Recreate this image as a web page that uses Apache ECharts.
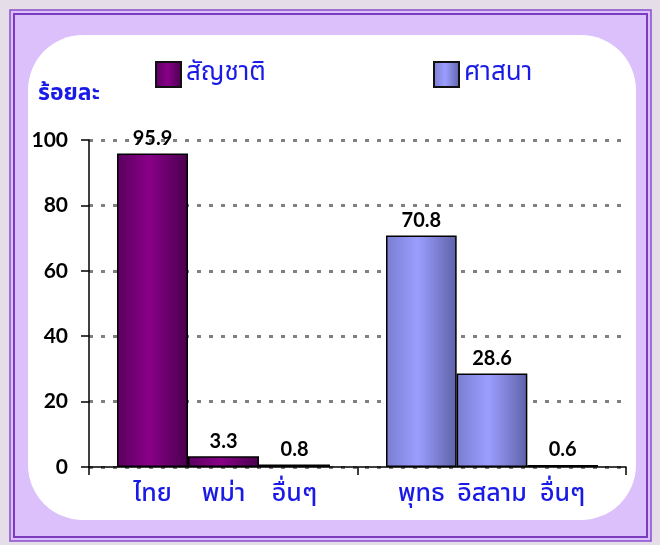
<!DOCTYPE html>
<html>
<head>
<meta charset="utf-8">
<script src="https://cdn.jsdelivr.net/npm/echarts@6/dist/echarts.min.js"></script>
<style>
html,body{margin:0;padding:0;background:#e5dde8;}
#c{width:660px;height:545px;}
</style>
</head>
<body>
<div id="c"></div>
<script>
// ---- data ----
const seriesNames = ['สัญชาติ', 'ศาสนา'];
const nationalityCats = ['ไทย', 'พม่า', 'อื่นๆ'];
const nationalityVals = [95.9, 3.3, 0.8];
const religionCats = ['พุทธ', 'อิสลาม', 'อื่นๆ'];
const religionVals = [70.8, 28.6, 0.6];
const yTicks = [0, 20, 40, 60, 80, 100];
const yUnit = 'ร้อยละ';

const thaiFont = "Tahoma, 'Noto Sans Thai', 'Noto Sans', 'DejaVu Sans', sans-serif";
const numFont = "Lato, 'Open Sans', 'Liberation Sans', sans-serif";
const blue = '#1a1ae6';

function grad(c0, c1, c2) {
  return new echarts.graphic.LinearGradient(0, 0, 1, 0, [
    {offset: 0, color: c0}, {offset: 0.45, color: c1}, {offset: 1, color: c2}
  ]);
}
const purpleGrad = grad('#5a005e', '#880088', '#4a004e');
const blueGrad = grad('#7a7ed0', '#9c9eff', '#5e62a8');

const chart = echarts.init(document.getElementById('c'), null, {renderer: 'canvas'});

const yMin = yTicks[0], yMax = yTicks[yTicks.length - 1];
const hiddenY = (gi) => ({type: 'value', gridIndex: gi, min: yMin, max: yMax, show: false});
const catX = (gi, cats) => ({
  type: 'category', gridIndex: gi, data: cats,
  axisLine: {show: false}, axisTick: {show: false},
  axisLabel: {color: blue, fontSize: 25, fontWeight: 500, fontFamily: thaiFont, margin: 16, interval: 0}
});
const barLabel = {
  show: true, position: 'top', distance: 5,
  color: '#000', fontSize: 20, fontWeight: 'bold', fontFamily: numFont,
  formatter: p => p.value.toFixed(1)
};

chart.setOption({
  backgroundColor: '#e5dde8',
  animation: false,
  graphic: {
    elements: [
      {type: 'rect', z: -10, shape: {x: 10, y: 10, width: 641, height: 531},
        style: {fill: '#dcc0fc', stroke: '#8a4ccc', lineWidth: 1.5}},
      {type: 'rect', z: -10, shape: {x: 14, y: 14, width: 633, height: 523},
        style: {fill: 'none', stroke: '#7a3bbf', lineWidth: 2}},
      {type: 'rect', z: -9, shape: {x: 28, y: 35, width: 608, height: 485, r: 55},
        style: {fill: '#ffffff'}},
      {type: 'text', z: 5, left: 38, top: 84,
        style: {text: yUnit, fill: blue, font: "bold 23px " + thaiFont}}
    ]
  },
  legend: [
    {data: [seriesNames[0]], left: 150, top: 56, itemWidth: 25, itemHeight: 25,
      icon: 'rect', itemStyle: {borderColor: '#111', borderWidth: 2},
      textStyle: {color: blue, fontSize: 26, fontFamily: thaiFont}, itemGap: 10},
    {data: [seriesNames[1]], left: 428, top: 56, itemWidth: 25, itemHeight: 25,
      icon: 'rect', itemStyle: {borderColor: '#111', borderWidth: 2},
      textStyle: {color: blue, fontSize: 26, fontFamily: thaiFont}, itemGap: 10}
  ],
  grid: [
    {left: 89, right: 34, top: 140, bottom: 78},
    {left: 117, width: 213, top: 140, bottom: 78},
    {left: 386, width: 212, top: 140, bottom: 78}
  ],
  xAxis: [
    {type: 'category', gridIndex: 0, data: seriesNames, boundaryGap: true,
      axisLine: {show: true, lineStyle: {color: '#000', width: 1.5}},
      axisTick: {show: true, length: 8, lineStyle: {color: '#000', width: 1.5}},
      axisLabel: {show: false}},
    catX(1, nationalityCats),
    catX(2, religionCats)
  ],
  yAxis: [
    {type: 'value', gridIndex: 0, min: yMin, max: yMax, interval: yTicks[1] - yTicks[0],
      axisLine: {show: true, lineStyle: {color: '#000', width: 1.5}},
      axisTick: {show: true, length: 8, lineStyle: {color: '#000', width: 1.5}},
      axisLabel: {color: '#000', fontSize: 21, fontWeight: 'bold', fontFamily: numFont, margin: 21},
      splitLine: {show: true, lineStyle: {color: '#808080', width: 3, type: [4, 8]}}},
    hiddenY(1),
    hiddenY(2)
  ],
  series: [
    {name: seriesNames[0], type: 'bar', xAxisIndex: 1, yAxisIndex: 1,
      data: nationalityVals, barCategoryGap: '0%',
      itemStyle: {color: purpleGrad, borderColor: '#000', borderWidth: 1.5},
      label: barLabel},
    {name: seriesNames[1], type: 'bar', xAxisIndex: 2, yAxisIndex: 2,
      data: religionVals, barCategoryGap: '0%',
      itemStyle: {color: blueGrad, borderColor: '#000', borderWidth: 1.5},
      label: barLabel}
  ]
});
</script>
</body>
</html>
